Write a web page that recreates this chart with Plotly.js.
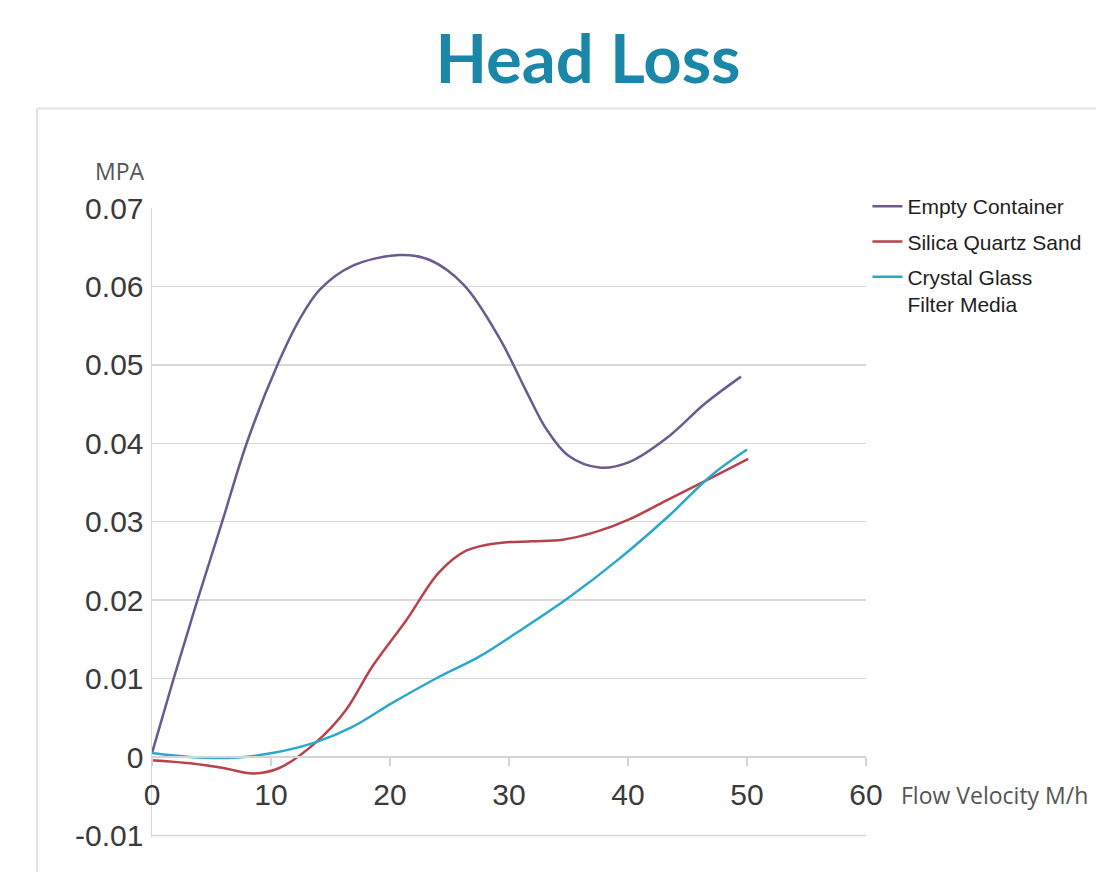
<!DOCTYPE html>
<html>
<head>
<meta charset="utf-8">
<script src="https://cdn.plot.ly/plotly-3.0.1.min.js"></script>
<style>
html,body{margin:0;padding:0;background:#fff;}
#chart{width:1096px;height:872px;}
</style>
</head>
<body>
<div id="chart"></div>
<script>
// Series names
const seriesNames = ["Empty Container", "Silica Quartz Sand", "Crystal Glass<br>Filter Media"];

// Empty Container (purple)
const emptyX = [0, 1.8, 3.8, 5.9, 8.0, 10.6, 12.4, 14.1, 16.8, 20.8, 23.3, 26.2, 29.2, 31.5, 33.1, 35.0, 37.6, 40.1, 43.2, 46.5, 49.5];
const emptyY = [0.0005, 0.0099, 0.0199, 0.0300, 0.0402, 0.0502, 0.0558, 0.0596, 0.0626, 0.0640, 0.0634, 0.0602, 0.0534, 0.0465, 0.0419, 0.0384, 0.0369, 0.0376, 0.0406, 0.0451, 0.0485];

// Silica Quartz Sand (red)
const sandX = [0, 3.2, 6.0, 8.5, 10.7, 13.8, 16.3, 18.5, 21.4, 24.1, 26.4, 29.2, 32.0, 34.5, 37.3, 40.1, 43.2, 46.5, 50.1];
const sandY = [-0.0004, -0.0008, -0.0014, -0.0021, -0.0014, 0.0019, 0.0060, 0.0115, 0.0175, 0.0235, 0.0263, 0.0273, 0.0275, 0.0277, 0.0287, 0.0303, 0.0327, 0.0352, 0.0380];

// Crystal Glass Filter Media (cyan)
const glassX = [0, 3.2, 6.8, 10.1, 13.8, 16.8, 20.2, 24.1, 27.5, 30.8, 35.0, 39.2, 43.4, 47.0, 50.0];
const glassY = [0.0005, 0.0, -0.0001, 0.0005, 0.0019, 0.0038, 0.0069, 0.0102, 0.0128, 0.0160, 0.0203, 0.0252, 0.0307, 0.0359, 0.0392];

// Axis ticks
const xTicks = [0, 10, 20, 30, 40, 50, 60];
const yTicks = [-0.01, 0, 0.01, 0.02, 0.03, 0.04, 0.05, 0.06, 0.07];
const yTickText = ["-0.01", "0", "0.01", "0.02", "0.03", "0.04", "0.05", "0.06", "0.07"];
const yBottomGrid = -0.01;

const colors = ["#6c5a8e", "#b8424c", "#2aa8cc"];

const traces = [
  {x: emptyX, y: emptyY, name: seriesNames[0], legendgroup: "a"},
  {x: sandX, y: sandY, name: seriesNames[1], legendgroup: "b"},
  {x: glassX, y: glassY, name: seriesNames[2], legendgroup: "c"}
].map((t, i) => Object.assign(t, {
  type: "scatter", mode: "lines",
  line: {color: colors[i], width: 2.5, shape: "spline", smoothing: 1},
  hoverinfo: "skip"
}));

const layout = {
  width: 1096, height: 872,
  margin: {l: 152, r: 230, t: 208, b: 35, pad: 0, autoexpand: false},
  paper_bgcolor: "#ffffff", plot_bgcolor: "#ffffff",
  showlegend: true,
  title: {
    text: "Head Loss",
    font: {family: "Lato, sans-serif", size: 67, color: "#1a86a8", weight: 700},
    xref: "container", x: 0.5365, xanchor: "center",
    yref: "container", y: 0.932, yanchor: "middle"
  },
  xaxis: {
    range: [0, 60],
    tickvals: xTicks,
    ticktext: xTicks.map(String),
    showgrid: false, zeroline: false,
    showline: true, linecolor: "#d4d4d4", linewidth: 2,
    ticks: "outside", ticklen: 8, tickcolor: "#d4d4d4", tickwidth: 1.5,
    anchor: "free", position: 0.1276,
    ticklabelstandoff: 3,
    tickfont: {family: "Liberation Sans, Arial, sans-serif", size: 30, color: "#3a3a3a"},
    fixedrange: true
  },
  yaxis: {
    range: [-0.0102, 0.07],
    tickvals: yTicks,
    ticktext: yTickText,
    showgrid: true, gridcolor: "#d8d8d8", gridwidth: 1.5,
    zeroline: false,
    showline: true, linecolor: "#d8d8d8", linewidth: 1.5,
    ticks: "", ticklabelstandoff: 1,
    tickfont: {family: "Liberation Sans, Arial, sans-serif", size: 30, color: "#3a3a3a"},
    fixedrange: true
  },
  legend: {
    x: 1.002, xanchor: "left", xref: "paper",
    y: 1.035, yanchor: "top", yref: "paper",
    font: {family: "Liberation Sans, Arial, sans-serif", size: 21, color: "#1e1e1e"},
    traceorder: "grouped", tracegroupgap: 5,
    valign: "top",
    bgcolor: "rgba(0,0,0,0)", borderwidth: 0
  },
  annotations: [
    {text: "MPA", xref: "paper", yref: "paper", x: -0.0448, y: 1.059,
     xanchor: "center", yanchor: "middle", showarrow: false,
     font: {family: "Open Sans, sans-serif", size: 23, color: "#555555"}},
    {text: "Flow Velocity M/h", xref: "paper", yref: "paper", x: 1.046, y: 0.067,
     xanchor: "left", yanchor: "middle", showarrow: false,
     font: {family: "Open Sans, sans-serif", size: 23, color: "#555555"}}
  ],
  shapes: [
    // bottom gridline at -0.01
    {type: "line", xref: "paper", yref: "y", x0: 0, x1: 1, y0: yBottomGrid, y1: yBottomGrid,
     line: {color: "#d8d8d8", width: 1.5}, layer: "below"},
    // panel frame
    {type: "line", xref: "paper", yref: "paper", x0: -0.161, x1: 1.35, y0: 1.158, y1: 1.158,
     line: {color: "#e2e2e2", width: 2}},
    {type: "line", xref: "paper", yref: "paper", x0: -0.161, x1: -0.161, y0: 1.158, y1: -0.1,
     line: {color: "#e2e2e2", width: 2}}
  ]
};

Plotly.newPlot("chart", traces, layout, {displayModeBar: false, staticPlot: true});
</script>
</body>
</html>
